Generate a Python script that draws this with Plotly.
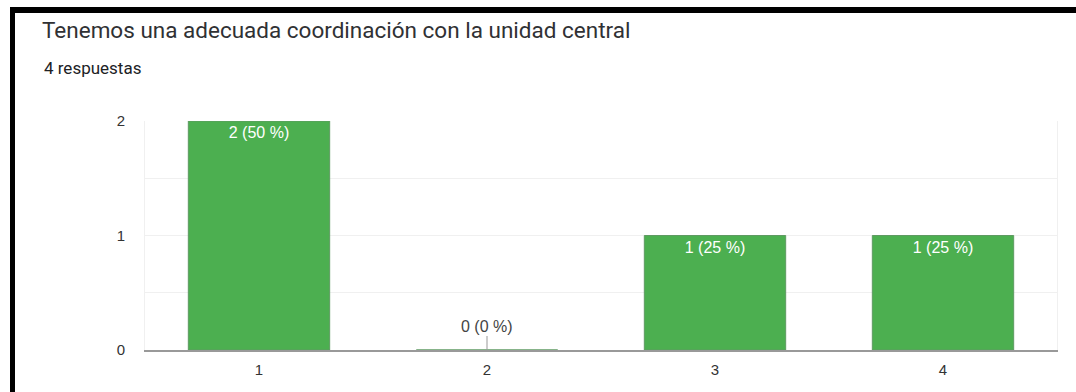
import plotly.graph_objects as go

categories = ["1", "2", "3", "4"]
counts = [2, 0, 1, 1]
total = 4
title_text = "Tenemos una adecuada coordinación con la unidad central"
subtitle_text = "4 respuestas"
ytick_vals = [0, 0.5, 1, 1.5, 2]
ytick_text = ["0", "", "1", "", "2"]

W, H = 1076, 392
L, R, T, B = 145, 19, 121, 42
pw, ph = W - L - R, H - T - B

def px(x):
    return (x - L) / pw

def py(y):
    return (H - B - y) / ph

labels = [f"{c} ({round(100 * c / total)} %)" for c in counts]
bar_text = [lab if c > 0 else "" for lab, c in zip(labels, counts)]

green = "#4caf50"
fig = go.Figure()
fig.add_trace(go.Bar(
    x=categories, y=counts, text=bar_text,
    textposition="inside", insidetextanchor="end",
    textfont=dict(family="Liberation Sans, Arial", size=16, color="white"),
    marker=dict(color=green, line=dict(color="#5f9a62", width=1)),
    width=0.62, cliponaxis=False, hoverinfo="skip",
))

annotations = []
for i, (c, lab) in enumerate(zip(counts, labels)):
    if c == 0:
        annotations.append(dict(
            x=i, y=c, xref="x", yref="y", text=lab, showarrow=True,
            arrowhead=0, arrowwidth=1, arrowcolor="#999999", ax=0, ay=-24,
            font=dict(family="Liberation Sans, Arial", size=16, color="#444444"),
        ))

annotations.append(dict(
    x=px(42), y=py(68), xref="paper", yref="paper", xanchor="left", yanchor="middle",
    text=subtitle_text, showarrow=False,
    font=dict(family="Roboto", size=17, color="#202124"),
))

shapes = [
    dict(type="rect", xref="paper", yref="paper", x0=px(10), x1=px(1076), y0=py(13), y1=py(7),
         fillcolor="black", line=dict(width=0), layer="above"),
    dict(type="rect", xref="paper", yref="paper", x0=px(10), x1=px(15), y0=py(392), y1=py(7),
         fillcolor="black", line=dict(width=0), layer="above"),
]

fig.update_layout(
    width=W, height=H,
    margin=dict(l=L, r=R, t=T, b=B, pad=0),
    paper_bgcolor="white", plot_bgcolor="white",
    showlegend=False,
    title=dict(text=title_text, xref="container", yref="container", x=42 / W, y=1 - 30 / H,
               xanchor="left", yanchor="middle",
               font=dict(family="Roboto", size=22.5, color="#303134")),
    annotations=annotations, shapes=shapes,
    xaxis=dict(type="category", range=[-0.5, 3.5], showgrid=False, zeroline=False,
               showline=True, linecolor="#999999", linewidth=2,
               ticks="", ticklabelstandoff=5,
               tickfont=dict(family="Liberation Sans, Arial", size=15, color="#333333")),
    yaxis=dict(range=[0, 2], tickvals=ytick_vals, ticktext=ytick_text,
               showgrid=True, gridcolor="#f0f0f0", gridwidth=1, zeroline=False,
               showline=True, mirror=True, linecolor="#f0f0f0", linewidth=1,
               ticks="", ticklabelstandoff=16,
               tickfont=dict(family="Liberation Sans, Arial", size=15, color="#333333")),
    bargap=0.38,
)

fig.write_html("out.html")
